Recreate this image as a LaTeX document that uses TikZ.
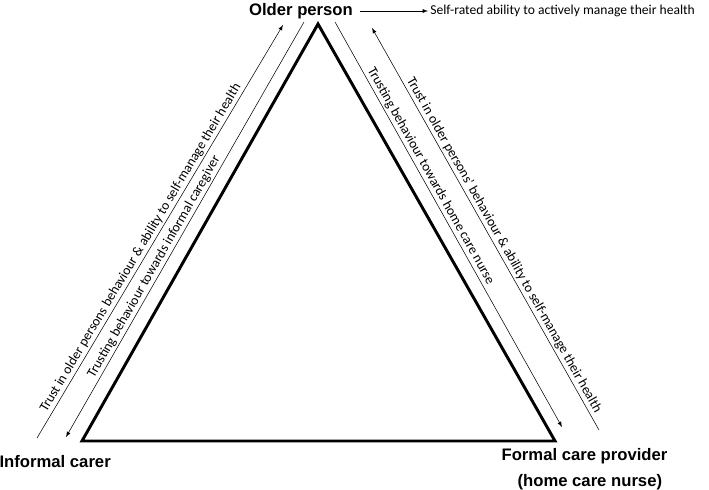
\documentclass[tikz,border=0pt]{standalone}
\usepackage{fontspec}
\setmainfont{Liberation Sans}
\newfontfamily\relfont{Carlito}
\usetikzlibrary{arrows}
\usetikzlibrary{positioning}

\begin{document}
\begin{tikzpicture}[x=0.75pt, y=-0.75pt,
        role/.style={font=\fontsize{12.5}{15}\selectfont\bfseries, inner sep=1pt},
        relation/.style={font=\relfont\fontsize{10.2}{12}\selectfont, inner sep=1.5pt},
        flow/.style={-latex, thin}]
        \useasboundingbox (0,0) rectangle (709,489);
        % corners of the care triangle
        \coordinate (apex) at (318,24);
        \coordinate (left) at (82,441);
        \coordinate (right) at (555,441);
        \draw [line width=2.2pt, line join=miter] (apex) -- (left) -- (right) -- cycle;
        \node [role] (older) at (301,11) {Older person};
        \node [role, anchor=west] (informal) at (-2,462) {Informal carer};
        \node [role, anchor=west] (formal) at (500,456) {Formal care provider};
        \node [role, anchor=west] (nurse) at (516,482) {(home care nurse)};
        \coordinate (self) at (428,11);
        \node [relation, anchor=west] (ability) at (self) {Self-rated ability to actively manage their health};
        \draw [flow] (older.east) ++(6,0) -- (ability.west);
        % arrows along the sides
        \coordinate (lo1) at (37,438);  \coordinate (lo2) at (283,25);
        \coordinate (li1) at (304,22);  \coordinate (li2) at (66,437);
        \coordinate (ri1) at (335,22);  \coordinate (ri2) at (562,427);
        \coordinate (ro1) at (599,430); \coordinate (ro2) at (372,28);
        \draw [flow] (lo1) -- (lo2);
        \draw [flow] (li1) -- (li2);
        \draw [flow] (ri1) -- (ri2);
        \draw [flow] (ro1) -- (ro2);
        \path (lo1) -- (lo2) node [relation, pos=0.45, rotate=59.2, anchor=south] (trustinf) {Trust in older persons behaviour \& ability to self-manage their health};
        \path (li2) -- (li1) node [relation, pos=0.4, rotate=60.2, anchor=south] (trustbeh) {Trusting behaviour towards informal caregiver};
        \path (ri1) -- (ri2) node [relation, pos=0.39, rotate=-60.7, anchor=south] (trustnur) {Trusting behaviour towards home care nurse};
        \path (ro2) -- (ro1) node [relation, pos=0.55, rotate=-60.5, anchor=south] (trustfor) {Trust in older persons’ behaviour \& ability to self-manage their health};
\end{tikzpicture}
\end{document}
